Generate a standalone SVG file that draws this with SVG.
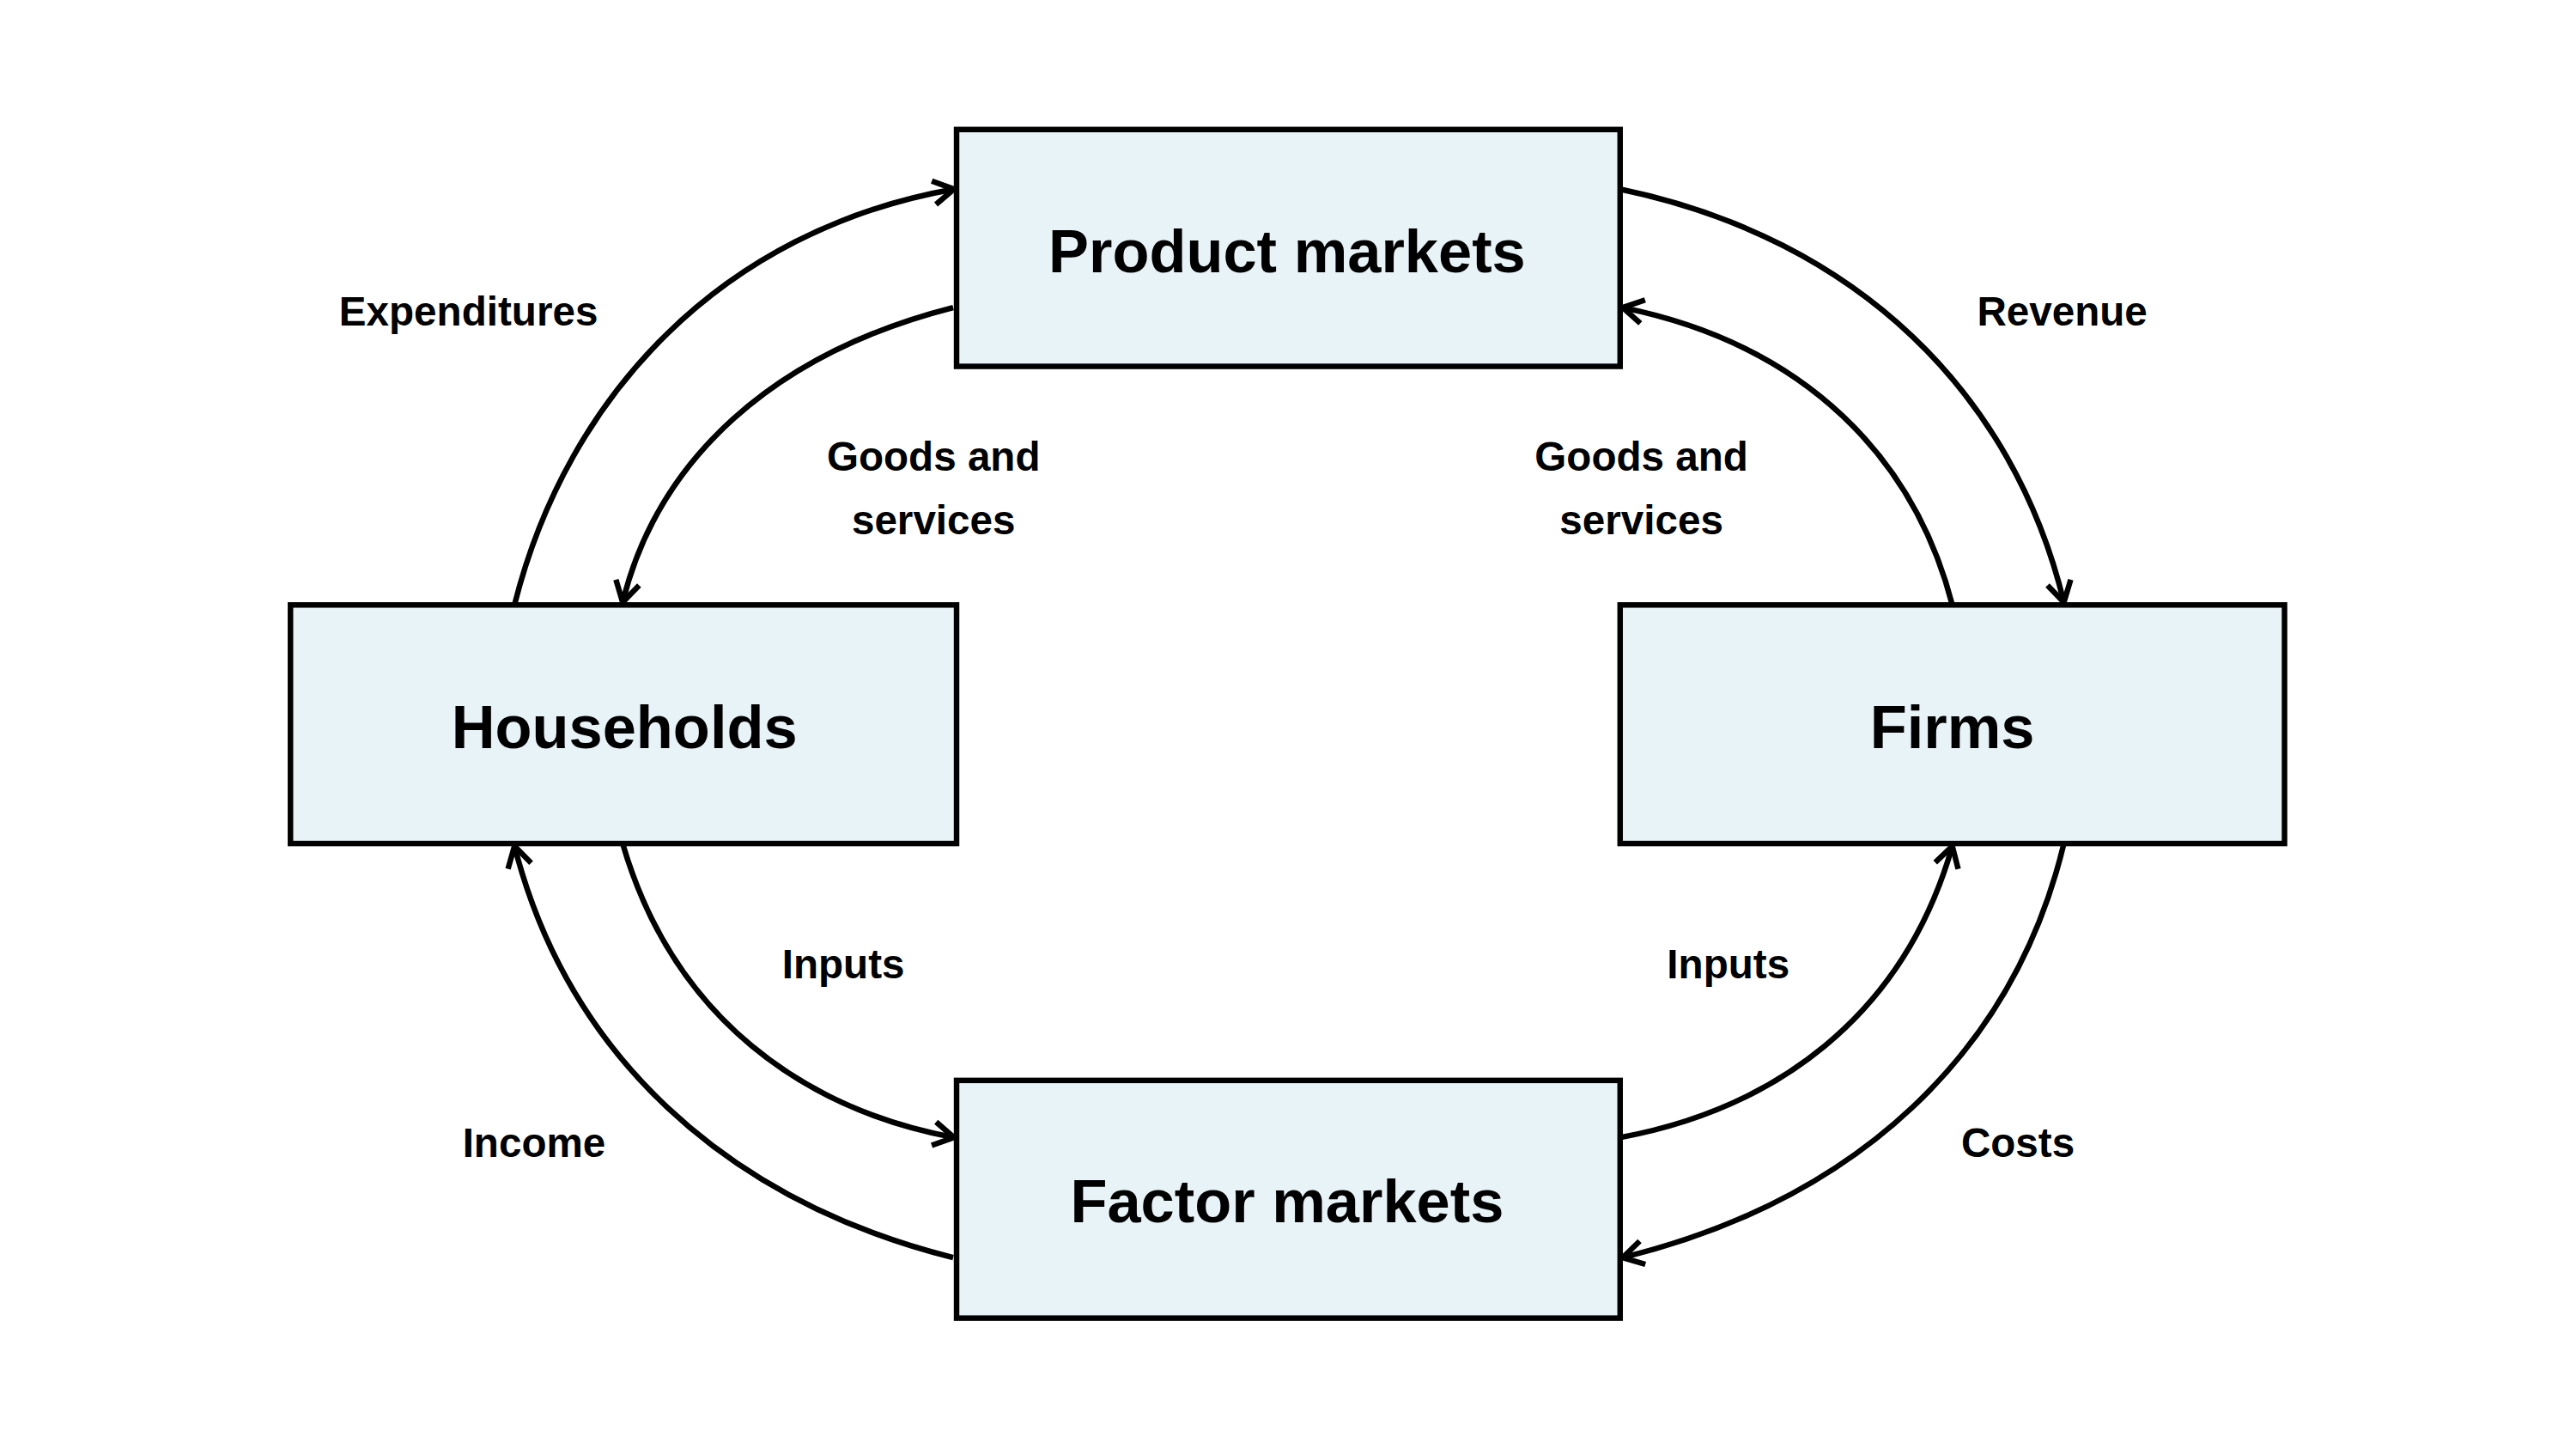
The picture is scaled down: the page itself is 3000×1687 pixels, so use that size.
<svg xmlns="http://www.w3.org/2000/svg" width="3000" height="1687" viewBox="0 0 3000 1687">
<style>
.box{fill:#e8f3f8;stroke:#000;stroke-width:6.5}
.t{font-family:"Liberation Sans",Arial,sans-serif;font-weight:bold;fill:#000;text-anchor:middle;dominant-baseline:central}
.big{font-size:71px}
.sm{font-size:48px}
.c{fill:none;stroke:#000;stroke-width:6.5;marker-end:url(#a)}
</style>
<defs>
<marker id="a" markerUnits="userSpaceOnUse" markerWidth="40" markerHeight="40" viewBox="-30 -20 34 40" refX="0" refY="0" orient="auto">
<path d="M-24,-14 L0,0 L-24,14" fill="none" stroke="#000" stroke-width="6.5"/>
</marker>
</defs>
<rect width="3000" height="1687" fill="#fff"/>
<g transform="scale(0.992)">
<g id="connectors">
<path class="c" d="M604,710 C666,463 849,270 1120,222"/>
<path class="c" d="M1119,361 C907,415 772,540 731,707"/>
<path class="c" d="M1902,222 C2181,280 2364,463 2423,707"/>
<path class="c" d="M2292,710 C2248,540 2122,405 1905,361"/>
<path class="c" d="M1119,1476 C849,1408 666,1235 604,993"/>
<path class="c" d="M731,990 C791,1196 945,1302 1120,1335"/>
<path class="c" d="M1902,1335 C2080,1302 2234,1196 2292,993"/>
<path class="c" d="M2423,990 C2364,1235 2181,1408 1905,1476"/>
<text class="t sm" x="550" y="365">Expenditures</text>
<text class="t sm" x="1096" y="536">Goods and</text>
<text class="t sm" x="1096" y="610">services</text>
<text class="t sm" x="2421" y="365">Revenue</text>
<text class="t sm" x="1927" y="536">Goods and</text>
<text class="t sm" x="1927" y="610">services</text>
<text class="t sm" x="990" y="1132">Inputs</text>
<text class="t sm" x="2029" y="1132">Inputs</text>
<text class="t sm" x="627" y="1341">Income</text>
<text class="t sm" x="2369" y="1341">Costs</text>
</g>
<g id="product"><rect class="box" x="1123" y="152" width="779" height="278"/><text class="t big" x="1511" y="295">Product markets</text></g>
<g id="households"><rect class="box" x="341" y="710" width="782" height="280"/><text class="t big" x="733" y="853">Households</text></g>
<g id="firms"><rect class="box" x="1902" y="710" width="780" height="280"/><text class="t big" x="2292" y="853">Firms</text></g>
<g id="factor"><rect class="box" x="1123" y="1268" width="779" height="279"/><text class="t big" x="1511" y="1410">Factor markets</text></g>
</g>
</svg>
